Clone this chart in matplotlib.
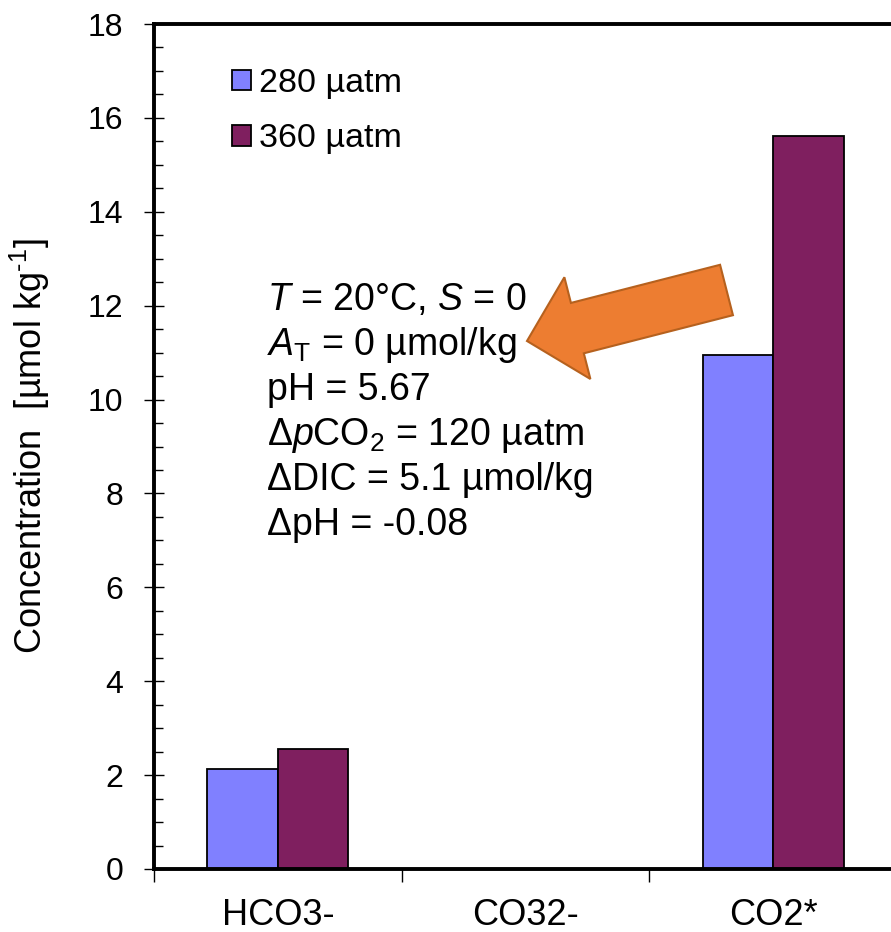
import matplotlib
matplotlib.use("Agg")
import matplotlib.pyplot as plt
from matplotlib.patches import FancyArrow, Patch
from matplotlib.ticker import MultipleLocator, FixedLocator
import numpy as np

plt.rcParams['font.family'] = ['Liberation Sans', 'DejaVu Sans']
plt.rcParams['mathtext.fontset'] = 'custom'
plt.rcParams['mathtext.rm'] = 'Liberation Sans'
plt.rcParams['mathtext.it'] = 'Liberation Sans:italic'
plt.rcParams['mathtext.bf'] = 'Liberation Sans:bold'

categories = ["HCO3-", "CO32-", "CO2*"]
series_names = ["280 µatm", "360 µatm"]
values_280 = [2.13, 0.0, 10.95]
values_360 = [2.56, 0.0, 15.62]
colors = ["#8080FF", "#7F1F5F"]
annotation_lines = [
    r"$T$ = 20°C, $S$ = 0",
    r"$A_\mathrm{T}$ = 0 µmol/kg",
    "pH = 5.67",
    r"Δ$p$CO$_2$ = 120 µatm",
    "ΔDIC = 5.1 µmol/kg",
    "ΔpH = -0.08",
]

W, H = 891, 932
fig = plt.figure(figsize=(W / 100, H / 100), dpi=100)
ax_l, ax_r, ax_t, ax_b = 154, 897, 24, 869
ax = fig.add_axes([ax_l / W, (H - ax_b) / H, (ax_r - ax_l) / W, (ax_b - ax_t) / H])

x = np.arange(len(categories))
bw = 0.285
ax.bar(x - bw / 2, values_280, bw, color=colors[0], edgecolor="black", linewidth=1.3, zorder=3)
ax.bar(x + bw / 2, values_360, bw, color=colors[1], edgecolor="black", linewidth=1.3, zorder=3)

ax.set_xlim(-0.5, 2.5)
ax.set_ylim(0, 18)
for s in ax.spines.values():
    s.set_linewidth(2.8)
    s.set_zorder(4)

ax.yaxis.set_major_locator(MultipleLocator(2))
ax.yaxis.set_minor_locator(MultipleLocator(0.5))
ax.tick_params(axis="y", which="major", direction="inout", length=14, width=1.0,
               labelsize=23, pad=15)
ax.tick_params(axis="y", which="minor", direction="in", length=6.5, width=1.0)

ax.xaxis.set_major_locator(FixedLocator([-0.5, 0.5, 1.5, 2.5]))
ax.xaxis.set_minor_locator(FixedLocator(x))
ax.xaxis.set_major_formatter(plt.NullFormatter())
ax.xaxis.set_minor_formatter(plt.FixedFormatter(categories))
ax.tick_params(axis="x", which="major", direction="out", length=9, width=1.0)
ax.tick_params(axis="x", which="minor", length=0, labelsize=26, pad=21)

ax.set_ylabel(r"Concentration  [µmol kg$^{\text{-1}}$]", fontsize=26)
ax.yaxis.set_label_coords((52 - ax_l) / (ax_r - ax_l), 0.5)

handles = [Patch(facecolor=c, edgecolor="black", linewidth=1.3) for c in colors]
leg = fig.legend(handles, series_names, loc="upper left",
                 bbox_to_anchor=(232 / W, 1 - 68 / H), frameon=False, fontsize=24.5,
                 handlelength=0.55, handleheight=0.55, handletextpad=0.25,
                 labelspacing=0.72, borderpad=0, borderaxespad=0)

y0 = 310
for i, line in enumerate(annotation_lines):
    fig.text(267 / W, 1 - (y0 + 45 * i) / H, line, fontsize=27, va="baseline", ha="left")

# Orange block arrow (in inches, isotropic)
tail = (726.5 / 100, (H - 290) / 100)
tip = (527 / 100, (H - 341) / 100)
dx, dy = tip[0] - tail[0], tip[1] - tail[1]
arrow = FancyArrow(tail[0], tail[1], dx, dy, width=0.52, head_width=1.05,
                   head_length=0.52, length_includes_head=True,
                   facecolor="#ED7D31", edgecolor="#B6611E", linewidth=1.5,
                   transform=fig.dpi_scale_trans, zorder=5)
fig.patches.append(arrow)

fig.savefig("out.png", dpi=100)
